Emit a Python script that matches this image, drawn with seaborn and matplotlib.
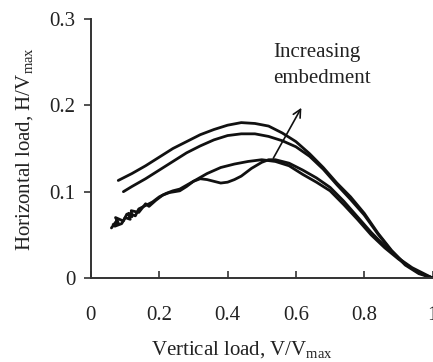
import matplotlib
matplotlib.use("Agg")
import matplotlib.pyplot as plt
import seaborn as sns
import pandas as pd

# ---- data ----
x_top = [0.08, 0.12, 0.16, 0.20, 0.24, 0.28, 0.32, 0.36, 0.40, 0.44, 0.48, 0.52,
         0.56, 0.60, 0.64, 0.68, 0.72, 0.76, 0.80, 0.84, 0.88, 0.92, 0.96, 1.00]
y_top = [0.113, 0.121, 0.130, 0.140, 0.150, 0.158, 0.166, 0.172, 0.177, 0.180, 0.179, 0.176,
         0.168, 0.158, 0.144, 0.128, 0.110, 0.094, 0.075, 0.052, 0.032, 0.016, 0.006, 0.0]

x_second = [0.095, 0.12, 0.16, 0.20, 0.24, 0.28, 0.32, 0.36, 0.40, 0.44, 0.48, 0.52,
            0.56, 0.60, 0.64, 0.68, 0.72, 0.76, 0.80, 0.84, 0.88, 0.92, 0.96, 1.00]
y_second = [0.100, 0.106, 0.115, 0.125, 0.135, 0.145, 0.153, 0.160, 0.165, 0.167, 0.167, 0.164,
            0.159, 0.152, 0.141, 0.126, 0.108, 0.091, 0.073, 0.051, 0.031, 0.015, 0.005, 0.0]

x_smooth = [0.06, 0.075, 0.07, 0.09, 0.10, 0.115, 0.11, 0.13, 0.14, 0.16, 0.18, 0.20, 0.22,
            0.24, 0.26, 0.30, 0.34, 0.38, 0.42, 0.46, 0.50, 0.54, 0.58, 0.62, 0.66, 0.70,
            0.74, 0.78, 0.82, 0.86, 0.90, 0.94, 0.98, 1.00]
y_smooth = [0.058, 0.066, 0.060, 0.063, 0.070, 0.068, 0.075, 0.072, 0.080, 0.084, 0.088, 0.094,
            0.098, 0.101, 0.103, 0.112, 0.121, 0.128, 0.132, 0.135, 0.137, 0.135, 0.130, 0.120,
            0.111, 0.101, 0.085, 0.068, 0.050, 0.035, 0.022, 0.011, 0.003, 0.0]

x_dip = [0.065, 0.08, 0.072, 0.095, 0.105, 0.12, 0.118, 0.14, 0.16, 0.17, 0.19, 0.21, 0.23,
         0.26, 0.28, 0.30, 0.32, 0.34, 0.36, 0.38, 0.40, 0.42, 0.44, 0.47, 0.50, 0.52,
         0.54, 0.58, 0.62, 0.66, 0.70, 0.74, 0.78, 0.82, 0.86, 0.90, 0.94, 0.98, 1.00]
y_dip = [0.062, 0.064, 0.070, 0.066, 0.074, 0.071, 0.078, 0.076, 0.086, 0.083, 0.090, 0.096,
         0.099, 0.101, 0.106, 0.112, 0.115, 0.114, 0.112, 0.110, 0.111, 0.114, 0.118, 0.127,
         0.134, 0.137, 0.137, 0.133, 0.125, 0.116, 0.105, 0.089, 0.071, 0.053, 0.037, 0.023,
         0.012, 0.004, 0.0]

curve_names = ["c1", "c2", "c3", "c4"]
x_ticks = [0, 0.2, 0.4, 0.6, 0.8, 1]
x_tick_labels = ["0", "0.2", "0.4", "0.6", "0.8", "1"]
y_ticks = [0, 0.1, 0.2, 0.3]
y_tick_labels = ["0", "0.1", "0.2", "0.3"]

frames = []
for name, xs, ys in zip(curve_names, [x_top, x_second, x_smooth, x_dip],
                        [y_top, y_second, y_smooth, y_dip]):
    frames.append(pd.DataFrame({"V": xs, "H": ys, "curve": name}))
df = pd.concat(frames, ignore_index=True)

sns.set_style("ticks")
plt.rcParams["font.family"] = ["Liberation Serif", "DejaVu Serif"]
plt.rcParams["mathtext.fontset"] = "custom"
plt.rcParams["mathtext.rm"] = "Liberation Serif"

fig = plt.figure(figsize=(4.33, 3.62), dpi=100)
ax = fig.add_axes([0.21, 0.232, 0.789, 0.7155])

sns.lineplot(data=df, x="V", y="H", hue="curve", units="curve", estimator=None,
             sort=False, palette=["#111111"] * 4, linewidth=2.0, legend=False, ax=ax)

ax.set_xlim(0, 1.0)
ax.set_ylim(0, 0.3)
ax.set_xticks(x_ticks)
ax.set_xticklabels(x_tick_labels)
ax.set_yticks(y_ticks)
ax.set_yticklabels(y_tick_labels)
ax.tick_params(axis="x", direction="in", length=5, width=1.2, labelsize=15, pad=20,
               color="#333333", labelcolor="#222222")
ax.tick_params(axis="y", direction="out", length=5, width=1.2, labelsize=15, pad=6,
               color="#333333", labelcolor="#222222")
for s in ["top", "right"]:
    ax.spines[s].set_visible(False)
for s in ["left", "bottom"]:
    ax.spines[s].set_linewidth(1.4)
    ax.spines[s].set_color("#333333")

ax.set_xlabel(r"Vertical load, V/V$_{\mathrm{max}}$", fontsize=15, color="#222222")
ax.set_ylabel(r"Horizontal load, H/V$_{\mathrm{max}}$", fontsize=15, color="#222222")
ax.xaxis.set_label_coords(0.442, -0.238)
ax.yaxis.set_label_coords(-0.162, 0.5)

ax.annotate("", xy=(0.62, 0.2), xytext=(0.53, 0.136),
            arrowprops=dict(arrowstyle="->", color="#111111", lw=1.2, mutation_scale=14))
ax.text(0.533, 0.256, "Increasing", ha="left", va="baseline", fontsize=15, color="#222222")
ax.text(0.533, 0.226, "embedment", ha="left", va="baseline", fontsize=15, color="#222222")

fig.savefig("out.png", dpi=100)
